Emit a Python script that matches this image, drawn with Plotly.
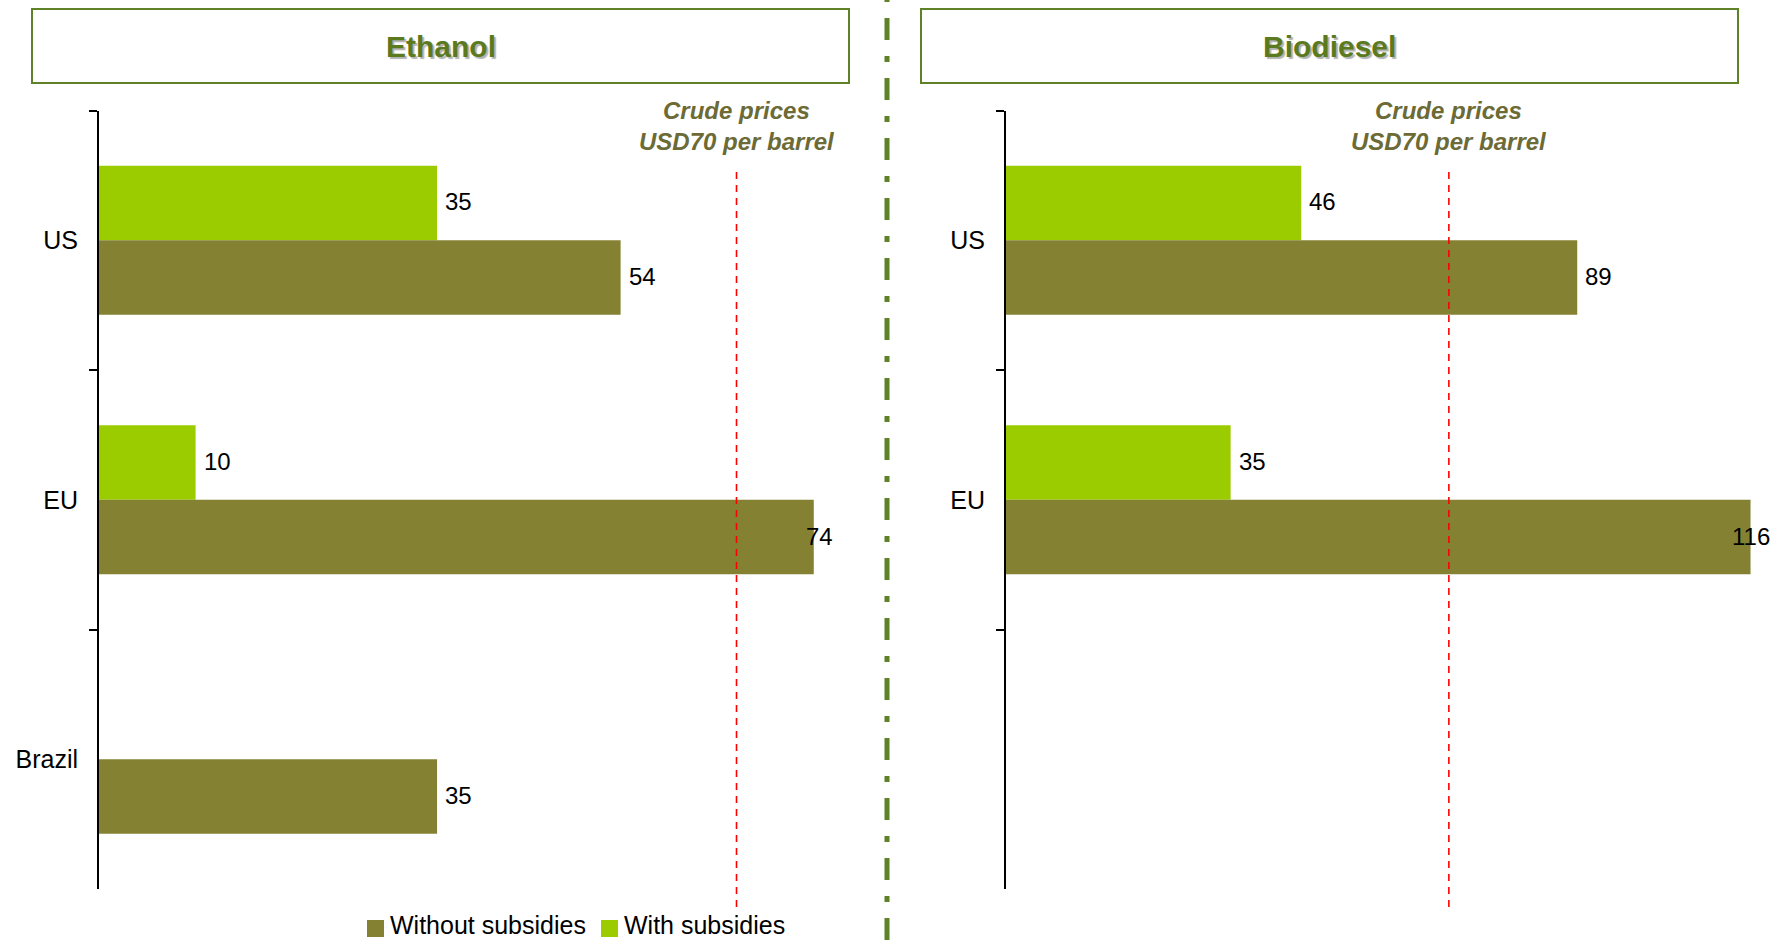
import plotly.graph_objects as go

# Production cost comparison, USD per hectolitre (gasoline / diesel equivalent)
ethanol_countries = ["US", "EU", "Brazil"]
ethanol_without_subsidies = [54, 74, 35]
ethanol_with_subsidies = [35, 10, None]

biodiesel_countries = ["US", "EU"]
biodiesel_without_subsidies = [89, 116]
biodiesel_with_subsidies = [46, 35]

# Fossil-fuel cost equivalent at a crude price of USD70 per barrel
ethanol_crude_reference = 66
biodiesel_crude_reference = 69

all_countries = ["US", "EU", "Brazil"]
panel_titles = ["Ethanol", "Biodiesel"]
series_names = ["Without subsidies", "With subsidies"]
crude_note = "Crude prices<br>USD70 per barrel"

COLOR_WITHOUT = "#848232"
COLOR_WITH = "#9BCC00"
COLOR_FRAME = "#5F8228"
COLOR_TITLE = "#5B7A1E"
COLOR_NOTE = "#6C6A35"
FONT = "Arial, 'Liberation Sans', sans-serif"

W, H = 1785, 940
BARGAP = 0.425

panels = [
    dict(countries=ethanol_countries, without=ethanol_without_subsidies,
         with_=ethanol_with_subsidies, crude=ethanol_crude_reference,
         xa="x", ya="y", xrange=76.3, px0=99, px1=836),
    dict(countries=biodiesel_countries, without=biodiesel_without_subsidies,
         with_=biodiesel_with_subsidies, crude=biodiesel_crude_reference,
         xa="x2", ya="y2", xrange=119.5, px0=1006, px1=1773),
]

fig = go.Figure()
annotations = []
shapes = []

for i, p in enumerate(panels):
    fig.add_trace(go.Bar(
        name=series_names[1], y=p["countries"], x=p["with_"], orientation="h",
        marker=dict(color=COLOR_WITH, line=dict(width=0)),
        xaxis=p["xa"], yaxis=p["ya"], showlegend=False, hoverinfo="skip",
    ))
    fig.add_trace(go.Bar(
        name=series_names[0], y=p["countries"], x=p["without"], orientation="h",
        marker=dict(color=COLOR_WITHOUT, line=dict(width=0)),
        xaxis=p["xa"], yaxis=p["ya"], showlegend=False, hoverinfo="skip",
    ))

    # value labels: placed just past the bar end, pulled back inside the plot if too long
    px_per_unit = (p["px1"] - p["px0"]) / p["xrange"]
    thickness = (1 - BARGAP) / 2
    for offset, values in ((-thickness / 2, p["with_"]), (thickness / 2, p["without"])):
        for country, v in zip(p["countries"], values):
            if v is None:
                continue
            label = f"{v:g}"
            label_px = len(label) * 0.556 * 24
            yi = all_countries.index(country) + offset
            if v * px_per_unit + 9 + label_px > p["px1"] - p["px0"]:
                annotations.append(dict(
                    x=p["xrange"], y=yi, xref=p["xa"], yref=p["ya"], text=label,
                    showarrow=False, xanchor="right", yanchor="middle", xshift=-1,
                    yshift=1, font=dict(size=24, color="black", family=FONT),
                ))
            else:
                annotations.append(dict(
                    x=v, y=yi, xref=p["xa"], yref=p["ya"], text=label,
                    showarrow=False, xanchor="left", yanchor="middle", xshift=6,
                    yshift=1, font=dict(size=24, color="black", family=FONT),
                ))

    # crude price reference line and its caption
    shapes.append(dict(
        type="line", xref=p["xa"], yref="paper", x0=p["crude"], x1=p["crude"],
        y0=1 - 907 / H, y1=1 - 171 / H,
        line=dict(color="#FF0000", width=1.6, dash="7px,6px"),
    ))
    annotations.append(dict(
        x=p["crude"], y=1 - 126 / H, xref=p["xa"], yref="paper", text=crude_note,
        showarrow=False, xanchor="center", yanchor="middle", align="center",
        font=dict(size=24, color=COLOR_NOTE, family=FONT, weight="bold", style="italic"),
    ))

# panel title boxes
boxes = [(32, 849), (921, 1738)]
for (bx0, bx1), title in zip(boxes, panel_titles):
    shapes.append(dict(
        type="rect", xref="paper", yref="paper",
        x0=bx0 / W, x1=bx1 / W, y0=1 - 83 / H, y1=1 - 9 / H,
        line=dict(color=COLOR_FRAME, width=2), fillcolor="rgba(0,0,0,0)",
    ))
    annotations.append(dict(
        x=(bx0 + bx1) / 2 / W, y=1 - 46 / H, xref="paper", yref="paper",
        text=title, showarrow=False, xanchor="center", yanchor="middle",
        font=dict(size=30, color=COLOR_TITLE, family=FONT, weight="bold",
                  shadow="2px 2px 1px rgba(0,0,0,0.30)"),
    ))

# dash-dot separator between the two panels
shapes.append(dict(
    type="line", xref="paper", yref="paper", x0=887 / W, x1=887 / W, y0=0, y1=1,
    line=dict(color=COLOR_FRAME, width=5, dash="22px,16px,6px,16px"),
))

# legend along the bottom: colour key squares with their series names
legend_items = [(367, COLOR_WITHOUT, series_names[0]), (601, COLOR_WITH, series_names[1])]
for lx, color, name in legend_items:
    shapes.append(dict(
        type="rect", xref="paper", yref="paper",
        x0=lx / W, x1=(lx + 17) / W, y0=1 - 937 / H, y1=1 - 920 / H,
        line=dict(width=0), fillcolor=color,
    ))
    annotations.append(dict(
        x=(lx + 21) / W, y=0, xref="paper", yref="paper", text=name,
        showarrow=False, xanchor="left", yanchor="bottom", yshift=-1,
        font=dict(size=25, color="black", family=FONT),
    ))

y_domain = [1 - 889 / H, 1 - 110.5 / H]


def y_axis(anchor, ticktext):
    return dict(
        domain=y_domain, anchor=anchor, type="category",
        categoryorder="array", categoryarray=all_countries,
        tickmode="array", tickvals=all_countries, ticktext=ticktext,
        range=[2.5, -0.5], tickson="boundaries",
        ticks="outside", ticklen=8, tickwidth=2, tickcolor="black",
        showline=True, linecolor="black", linewidth=2,
        showgrid=False, zeroline=False, ticklabelstandoff=14,
        tickfont=dict(size=25, color="black", family=FONT),
        fixedrange=True,
    )


def x_axis(p, anchor):
    return dict(
        domain=[p["px0"] / W, p["px1"] / W], anchor=anchor,
        range=[0, p["xrange"]], visible=False, showgrid=False, zeroline=False,
        fixedrange=True,
    )


fig.update_layout(
    width=W, height=H,
    margin=dict(l=0, r=0, t=0, b=0, autoexpand=False),
    paper_bgcolor="white", plot_bgcolor="white",
    font=dict(family=FONT, size=24, color="black"),
    barmode="group", bargap=BARGAP, bargroupgap=0,
    xaxis=x_axis(panels[0], "y"),
    yaxis=y_axis("x", ["US", "EU", "Brazil"]),
    xaxis2=x_axis(panels[1], "y2"),
    yaxis2=y_axis("x2", ["US", "EU", ""]),
    shapes=shapes,
    annotations=annotations,
    showlegend=False,
)

fig.write_html("out.html")
